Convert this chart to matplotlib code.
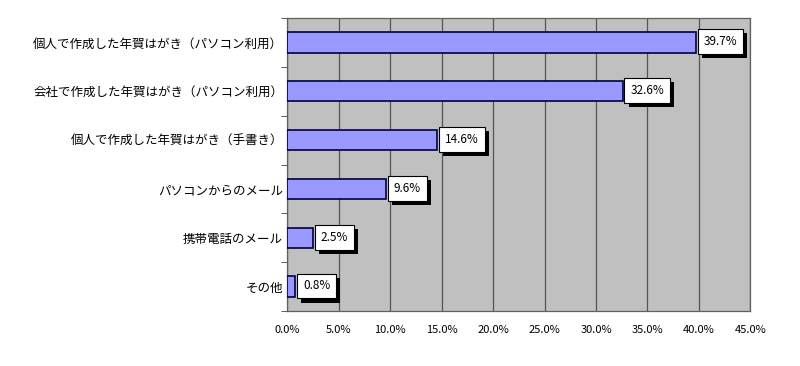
import matplotlib
matplotlib.use("Agg")
import matplotlib.pyplot as plt
import numpy as np
from matplotlib.ticker import FixedLocator
from matplotlib import patheffects as pe

plt.rcParams['font.family'] = ['Noto Sans CJK JP', 'DejaVu Sans']

categories = ["個人で作成した年賀はがき（パソコン利用）",
              "会社で作成した年賀はがき（パソコン利用）",
              "個人で作成した年賀はがき（手書き）",
              "パソコンからのメール",
              "携帯電話のメール",
              "その他"]
values = [39.7, 32.6, 14.6, 9.6, 2.5, 0.8]
xticks = [0, 5, 10, 15, 20, 25, 30, 35, 40, 45]
xticklabels = ["0.0%", "5.0%", "10.0%", "15.0%", "20.0%", "25.0%", "30.0%", "35.0%", "40.0%", "45.0%"]

fig = plt.figure(figsize=(8, 3.66), dpi=100)
ax = fig.add_axes([0.359, 0.150, 0.579, 0.801])
ax.set_facecolor('#C0C0C0')

n = len(categories)
y = np.arange(n)
ax.barh(y, values, height=0.42, color='#9999FF', edgecolor='#000040', linewidth=1.2, zorder=3)

ax.set_xlim(0, 45)
ax.set_ylim(n - 0.5, -0.5)
ax.set_xticks(xticks)
ax.set_xticklabels(xticklabels, fontsize=8)
ax.set_yticks(y)
ax.set_yticklabels(categories, fontsize=9)
ax.yaxis.set_minor_locator(FixedLocator(np.arange(-0.5, n, 1.0)))
ax.tick_params(axis='y', which='major', length=0, pad=3)
ax.tick_params(axis='y', which='minor', length=4, color='#404040', direction='out')
ax.tick_params(axis='x', length=0, pad=10)
ax.grid(axis='x', color='#555555', linewidth=0.9, zorder=1)
for s in ax.spines.values():
    s.set_color('#606060')
    s.set_linewidth(0.9)

for yi, v in zip(y, values):
    t = ax.annotate(f"{v:.1f}%", xy=(v, yi), xytext=(5.5, 0.5), textcoords='offset points',
                    ha='left', va='center', fontsize=8.5, color='black',
                    bbox=dict(boxstyle='square,pad=0.5', fc='white', ec='black', lw=0.8),
                    zorder=5)
    t.get_bbox_patch().set_path_effects([
        pe.SimplePatchShadow(offset=(3, -3), shadow_rgbFace='black', alpha=1.0),
        pe.Normal()])

fig.savefig('out.png', dpi=100)
